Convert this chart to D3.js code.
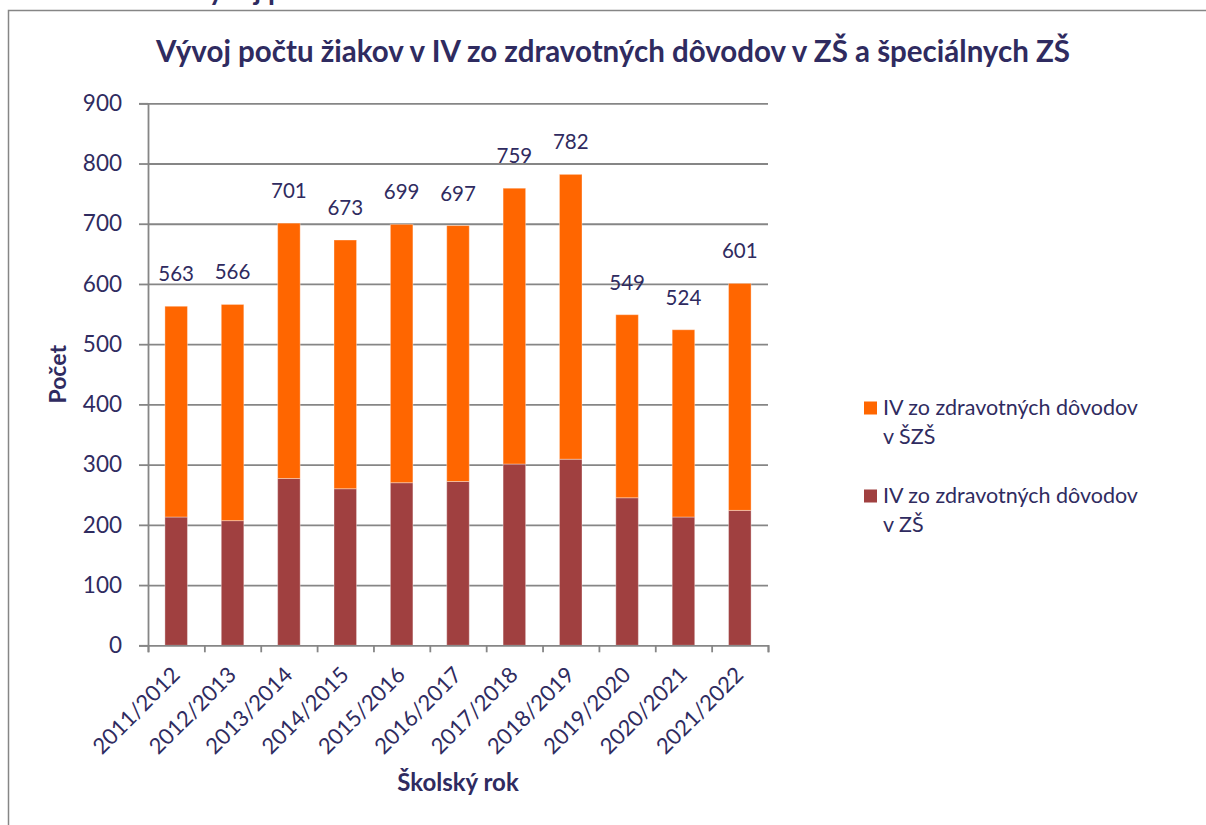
<!DOCTYPE html>
<html>
<head>
<meta charset="utf-8">
<script src="https://cdn.jsdelivr.net/npm/d3@7"></script>
<style>
  body { margin: 0; background: #fff; }
  text { font-family: Lato, "Open Sans", sans-serif; fill: #2f2b60; }
</style>
</head>
<body>
<div id="chart"></div>
<script>
// school years (categories)
const years = ["2011/2012", "2012/2013", "2013/2014", "2014/2015", "2015/2016", "2016/2017",
               "2017/2018", "2018/2019", "2019/2020", "2020/2021", "2021/2022"];
// IV zo zdravotných dôvodov v ZŠ (bottom, maroon)
const zs = [213, 207, 277, 260, 270, 272, 301, 309, 245, 213, 224];
// IV zo zdravotných dôvodov v ŠZŠ (top, orange)
const szs = [350, 359, 424, 413, 429, 425, 458, 473, 304, 311, 377];
const yTicks = [0, 100, 200, 300, 400, 500, 600, 700, 800, 900];
const seriesNames = ["IV zo zdravotných dôvodov v ŠZŠ", "IV zo zdravotných dôvodov v ZŠ"];
const chartTitle = "Vývoj počtu žiakov v IV zo zdravotných dôvodov v ZŠ a špeciálnych ZŠ";

const w = 1206, h = 825;
const plot = { left: 148, right: 768, top: 103.3, bottom: 645.3 };
const gridColor = "#868686";
const colors = { zs: "#a04040", szs: "#ff6600" };

const table = years.map((y, i) => ({ year: y, zs: zs[i], szs: szs[i] }));

const svg = d3.select("#chart")
  .append("svg")
  .attr("width", w)
  .attr("height", h);

// caption above the chart frame, cut by the page edge as in the source
svg.append("text")
  .attr("x", 190)
  .attr("y", 0)
  .style("font-weight", "bold")
  .style("font-size", "28px")
  .text("Vývoj počtu žiakov");

// chart frame
svg.append("rect")
  .attr("x", 8.5)
  .attr("y", 10.5)
  .attr("width", 1400)
  .attr("height", 1000)
  .attr("fill", "none")
  .attr("stroke", gridColor)
  .attr("stroke-width", 1.5);

svg.append("text")
  .attr("x", 613)
  .attr("y", 62)
  .attr("text-anchor", "middle")
  .style("font-weight", "bold")
  .style("font-size", "29.5px")
  .text(chartTitle);

const xScale = d3.scaleBand()
  .domain(years)
  .range([plot.left, plot.right])
  .paddingInner(0.6)
  .paddingOuter(0.3);

const yScale = d3.scaleLinear()
  .domain([0, 900])
  .range([plot.bottom, plot.top]);

// gridlines
svg.append("g")
  .attr("transform", "translate(" + plot.left + ",0)")
  .call(d3.axisLeft(yScale).tickValues(yTicks.slice(1)).tickSize(-(plot.right - plot.left)).tickFormat(""))
  .call(g => g.select(".domain").remove())
  .selectAll("line")
  .attr("stroke", gridColor)
  .attr("stroke-width", 1.8);

// y axis
const yAxis = svg.append("g")
  .attr("transform", "translate(" + plot.left + ",0)")
  .call(d3.axisLeft(yScale).tickValues(yTicks).tickSize(9).tickPadding(17));
yAxis.selectAll("line, path").attr("stroke", gridColor).attr("stroke-width", 1.8);
yAxis.selectAll("text")
  .style("font-size", "22.5px")
  .style("font-family", "Lato, sans-serif")
  .attr("fill", "#2f2b60");

// stacked bars
const stack = d3.stack().keys(["zs", "szs"]);
const layers = stack(table);

svg.selectAll("g.layer")
  .data(layers)
  .enter()
  .append("g")
  .attr("class", "layer")
  .attr("fill", d => colors[d.key])
  .selectAll("rect")
  .data(d => d)
  .enter()
  .append("rect")
  .attr("x", d => xScale(d.data.year))
  .attr("y", d => yScale(d[1]))
  .attr("width", xScale.bandwidth())
  .attr("height", d => yScale(d[0]) - yScale(d[1]))
  .attr("stroke", "rgba(255,255,255,0.35)")
  .attr("stroke-width", 1);

// x axis with ticks between categories
const edge = d3.scaleLinear().domain([0, years.length]).range([plot.left, plot.right]);
const xAxis = svg.append("g")
  .attr("transform", "translate(0," + plot.bottom + ")")
  .call(d3.axisBottom(edge).tickValues(d3.range(years.length + 1)).tickSize(7).tickFormat("").tickSizeOuter(7));
xAxis.selectAll("line, path").attr("stroke", gridColor).attr("stroke-width", 1.8);

svg.append("g")
  .selectAll("text")
  .data(years)
  .enter()
  .append("text")
  .attr("text-anchor", "end")
  .style("font-size", "22px")
  .attr("transform", d => "translate(" + (xScale(d) + xScale.bandwidth() / 2 + 5) + "," + (plot.bottom + 31) + ") rotate(-45)")
  .text(d => d);

// total labels above bars
svg.append("g")
  .selectAll("text")
  .data(table)
  .enter()
  .append("text")
  .attr("text-anchor", "middle")
  .style("font-size", "20.5px")
  .attr("x", d => xScale(d.year) + xScale.bandwidth() / 2)
  .attr("y", d => yScale(d.zs + d.szs) - 25)
  .text(d => d.zs + d.szs);

// axis titles
svg.append("text")
  .attr("text-anchor", "middle")
  .attr("transform", "translate(66," + ((plot.top + plot.bottom) / 2) + ") rotate(-90)")
  .style("font-weight", "bold")
  .style("font-size", "23px")
  .text("Počet");

svg.append("text")
  .attr("text-anchor", "middle")
  .attr("x", (plot.left + plot.right) / 2)
  .attr("y", 791)
  .style("font-weight", "bold")
  .style("font-size", "24px")
  .text("Školský rok");

// legend
const legend = svg.append("g")
  .selectAll("g")
  .data([{ name: seriesNames[0], key: "szs" }, { name: seriesNames[1], key: "zs" }])
  .enter()
  .append("g")
  .attr("transform", (d, i) => "translate(864," + (415 + i * 88) + ")");

legend.append("rect")
  .attr("x", 0)
  .attr("y", -13.5)
  .attr("width", 13)
  .attr("height", 13)
  .attr("fill", d => colors[d.key]);

legend.append("text")
  .style("font-size", "21.5px")
  .each(function (d) {
    const cut = d.name.lastIndexOf(" v ");
    const t = d3.select(this);
    t.append("tspan").attr("x", 19).attr("y", 0).text(d.name.slice(0, cut));
    t.append("tspan").attr("x", 19).attr("y", 29).text(d.name.slice(cut + 1));
  });
</script>
</body>
</html>
